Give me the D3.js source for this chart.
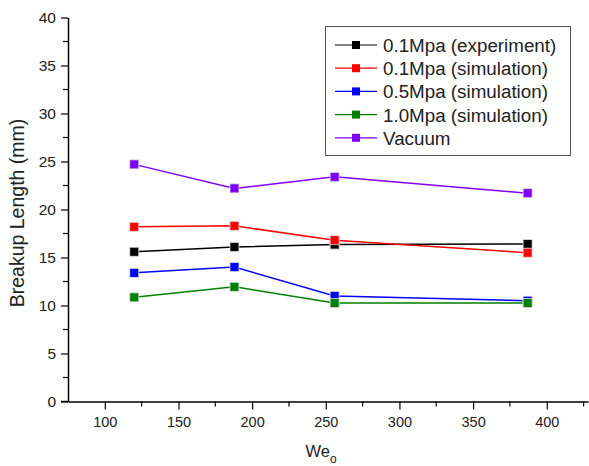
<!DOCTYPE html>
<html><head><meta charset="utf-8">
<script src="https://cdn.jsdelivr.net/npm/d3@7"></script>
<style>body{margin:0;background:#fff;} svg{display:block;font-family:"Liberation Sans",Arial,sans-serif;}</style>
</head><body>
<script>
const weValues = [120, 188, 256, 387];
const seriesNames = ["0.1Mpa (experiment)", "0.1Mpa (simulation)", "0.5Mpa (simulation)", "1.0Mpa (simulation)", "Vacuum"];
const seriesColors = ["#000000", "#ff0000", "#0000ff", "#008000", "#8000ff"];
const exp01 = [15.6, 16.1, 16.35, 16.4];
const sim01 = [18.2, 18.3, 16.8, 15.5];
const sim05 = [13.4, 14.0, 11.0, 10.5];
const sim10 = [10.85, 11.95, 10.25, 10.25];
const vacuum = [24.7, 22.2, 23.4, 21.7];
const xTicks = [100, 150, 200, 250, 300, 350, 400];
const yTicks = [0, 5, 10, 15, 20, 25, 30, 35, 40];
const seriesValues = [exp01, sim01, sim05, sim10, vacuum];

const W = 589, H = 466;
const svg = d3.select("body").append("svg").attr("width", W).attr("height", H);
const x = d3.scaleLinear().domain([75, 428]).range([68, 588]);
const y = d3.scaleLinear().domain([0, 40]).range([401.5, 17.5]);
const font = "'Liberation Sans', Arial, sans-serif";

// axes
const xAxis = d3.axisBottom(x).tickValues(xTicks).tickSize(8).tickSizeOuter(0).tickPadding(7);
const gx = svg.append("g").attr("transform", "translate(0,401.5)").call(xAxis);
const xMinor = d3.range(125, 428, 50);
gx.selectAll(".minor").data(xMinor).enter().append("line").attr("class","minor")
  .attr("x1", d => x(d)).attr("x2", d => x(d)).attr("y1", 0).attr("y2", 5).attr("stroke", "#000").attr("stroke-width", 1.2);
const yAxis = d3.axisLeft(y).tickValues(yTicks).tickSize(7).tickSizeOuter(0).tickPadding(5);
const gy = svg.append("g").attr("transform", "translate(68,0)").call(yAxis);
const yMinor = d3.range(2.5, 40, 5);
gy.selectAll(".minor").data(yMinor).enter().append("line").attr("class","minor")
  .attr("y1", d => y(d)).attr("y2", d => y(d)).attr("x1", 0).attr("x2", -5).attr("stroke", "#000").attr("stroke-width", 1.2);
[gx, gy].forEach(g => {
  g.select(".domain").attr("stroke", "#000").attr("stroke-width", 1.5);
  g.selectAll(".tick line").attr("stroke", "#000").attr("stroke-width", 1.2);
  g.selectAll(".tick text").attr("fill", "#222").attr("font-family", font);
});
gx.selectAll(".tick text").attr("font-size", 14.5);
gy.selectAll(".tick text").attr("font-size", 15.5);
svg.append("line").attr("x1", 61).attr("x2", 68).attr("y1", 401.5).attr("y2", 401.5).attr("stroke", "#000").attr("stroke-width", 1.5);

// titles
svg.append("text").attr("transform", "translate(23.5,213) rotate(-90)").attr("text-anchor", "middle")
  .attr("font-size", 19.5).attr("fill", "#222").text("Breakup Length (mm)");
const xt = svg.append("text").attr("x", 321).attr("y", 457).attr("text-anchor", "middle").attr("font-size", 16.5).attr("fill", "#222");
xt.append("tspan").text("We");
xt.append("tspan").attr("font-size", 12).attr("dy", 6).text("o");

// series
const line = d3.line().x((d, i) => x(weValues[i])).y(d => y(d));
seriesValues.forEach((vals, si) => {
  svg.append("path").datum(vals).attr("d", line).attr("fill", "none")
    .attr("stroke", seriesColors[si]).attr("stroke-width", 1.5);
});
seriesValues.forEach((vals, si) => {
  svg.selectAll(null).data(vals).enter().append("rect")
    .attr("x", (d, i) => x(weValues[i]) - 4.5).attr("y", d => y(d) - 4.5)
    .attr("width", 9).attr("height", 9).attr("fill", seriesColors[si])
    .attr("stroke", "#ddd").attr("stroke-width", 0.8);
});

// legend
const lg = svg.append("g");
lg.append("rect").attr("x", 325.5).attr("y", 26.5).attr("width", 245).attr("height", 129)
  .attr("fill", "#fff").attr("stroke", "#555").attr("stroke-width", 1);
seriesNames.forEach((name, i) => {
  const cy = 45 + i * 23.2;
  lg.append("line").attr("x1", 335).attr("x2", 377).attr("y1", cy).attr("y2", cy)
    .attr("stroke", seriesColors[i]).attr("stroke-width", 1.2);
  lg.append("rect").attr("x", 352).attr("y", cy - 4).attr("width", 8).attr("height", 8).attr("fill", seriesColors[i]);
  lg.append("text").attr("x", 383).attr("y", cy + 7).attr("font-size", 18.8).attr("fill", "#222").text(name);
});
</script>
</body></html>
